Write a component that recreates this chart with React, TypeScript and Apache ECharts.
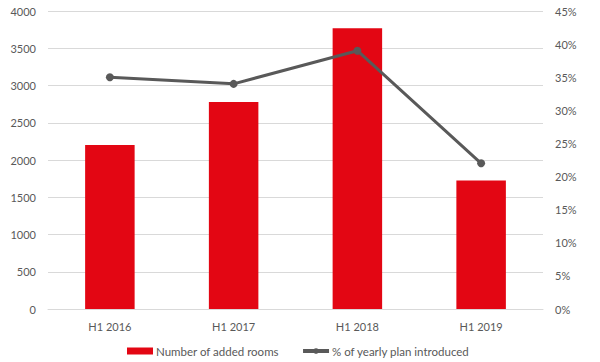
import React, { useEffect, useRef } from "react";
import * as echarts from "echarts";

const categories = ["H1 2016", "H1 2017", "H1 2018", "H1 2019"];
const addedRooms = [2200, 2780, 3770, 1725];
const planPercent = [0.35, 0.34, 0.39, 0.22];
const barName = "Number of added rooms";
const lineName = "% of yearly plan introduced";

export default function App() {
  const ref = useRef<HTMLDivElement>(null);
  useEffect(() => {
    if (!ref.current) return;
    const chart = echarts.init(ref.current, null, { renderer: "svg" });
    const font = "Lato, 'Open Sans', sans-serif";
    const textColor = "#595959";
    chart.setOption({
      animation: false,
      textStyle: { fontFamily: font },
      grid: { left: 48, right: 57, top: 11, bottom: 53, containLabel: false },
      legend: {
        top: 345,
        left: 122,
        itemGap: 22,
        itemWidth: 26,
        itemHeight: 7,
        padding: [0, 5, 0, 5],
        textStyle: { color: textColor, fontSize: 11.5, fontFamily: font, padding: [0, 0, 0, -2] },
        data: [
          { name: barName, icon: "rect" },
          { name: lineName, itemStyle: { color: "#595959" }, lineStyle: { width: 4, color: "#595959" } },
        ],
      },
      xAxis: {
        type: "category",
        data: categories,
        axisLine: { lineStyle: { color: "#d9d9d9", width: 1 } },
        axisTick: { show: false },
        axisLabel: { color: textColor, fontSize: 11, margin: 12, fontFamily: font },
      },
      yAxis: [
        {
          type: "value",
          min: 0,
          max: 4000,
          interval: 500,
          axisLine: { show: false },
          axisTick: { show: false },
          axisLabel: {
            color: textColor,
            fontSize: 11,
            margin: 12,
            fontFamily: font,
            formatter: (v: number) => String(v),
          },
          splitLine: { lineStyle: { color: "#d9d9d9", width: 1 } },
        },
        {
          type: "value",
          min: 0,
          max: 0.45,
          interval: 0.05,
          position: "right",
          axisLine: { show: false },
          axisTick: { show: false },
          splitLine: { show: false },
          axisLabel: {
            color: textColor,
            fontSize: 11,
            margin: 12,
            fontFamily: font,
            formatter: (v: number) => Math.round(v * 100) + "%",
          },
        },
      ],
      series: [
        {
          name: barName,
          type: "bar",
          data: addedRooms,
          barWidth: "40%",
          itemStyle: { color: "#E30613" },
        },
        {
          name: lineName,
          type: "line",
          yAxisIndex: 1,
          data: planPercent,
          symbol: "circle",
          symbolSize: 8,
          lineStyle: { color: "#595959", width: 3 },
          itemStyle: { color: "#595959" },
        },
      ],
    });
    return () => chart.dispose();
  }, []);
  return <div ref={ref} style={{ width: 600, height: 362, position: "absolute", left: 0, top: 0 }} />;
}
